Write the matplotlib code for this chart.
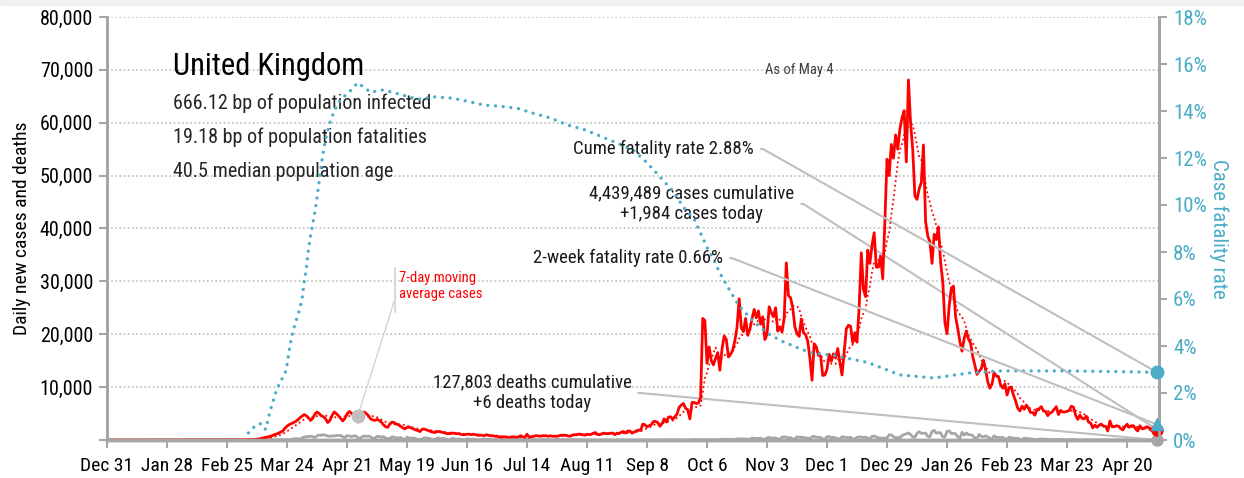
import matplotlib
matplotlib.use('Agg')
import matplotlib.pyplot as plt
import numpy as np
import pandas as pd

plt.rcParams['font.family'] = ['Roboto Condensed', 'Archivo Narrow', 'DejaVu Sans']

RED = '#ff0000'
TEAL = '#4bacc6'
GREY = '#a6a6a6'
LEADER = '#bfbfbf'

# daily new cases (thousands), one line per week starting Tue Dec 31 2019
cases_k = [
    0, 0, 0, 0, 0, 0, 0,
    0, 0, 0, 0, 0, 0, 0,
    0, 0, 0, 0, 0, 0, 0,
    0, 0, 0, 0, 0, 0, 0,
    0, 0, 0, 0, 0, 0, 0,
    0, 0, 0, 0, 0, 0, 0,
    0, 0, 0, 0, 0, 0, 0,
    0, 0, 0, 0, 0, 0, 0,
    0, 0, 0, 0, 0.01, 0.01, 0.01,
    0.05, 0.05, 0.03, 0.05, 0.05, 0.06, 0.07,
    0.15, 0.2, 0.3, 0.4, 0.5, 0.55, 0.7,
    0.8, 1.0, 1.1, 1.3, 1.5, 1.7, 2.2,
    2.6, 2.9, 3.1, 3.3, 3.5, 3.8, 4.2,
    4.5, 4.8, 4.6, 4.2, 3.7, 4.1, 4.9,
    5.3, 5.0, 4.6, 4.4, 4.0, 3.3, 3.7,
    4.6, 5.3, 5.0, 4.6, 4.1, 3.6, 4.1,
    4.9, 5.4, 5.1, 4.7, 4.1, 3.4, 4.0,
    4.8, 5.3, 5.0, 4.6, 4.0, 3.8, 3.7,
    3.9, 3.7, 3.4, 2.9, 2.5, 2.4, 3.0,
    3.4, 3.3, 3.0, 2.9, 2.6, 2.3, 2.1,
    2.4, 2.4, 2.3, 2.1, 1.9, 1.8, 1.6,
    2.0, 2.1, 1.9, 1.8, 1.6, 1.5, 1.4,
    1.6, 1.6, 1.5, 1.4, 1.3, 1.2, 1.2,
    1.3, 1.3, 1.2, 1.2, 1.1, 1.0, 1.0,
    1.1, 1.1, 1.0, 1.1, 1.0, 0.9, 0.9,
    0.9, 0.8, 1.0, 0.9, 0.8, 0.8, 0.7,
    0.7, 0.6, 0.5, 0.6, 0.6, 0.5, 0.5,
    0.6, 0.6, 0.5, 0.6, 0.8, 0.6, 0.5,
    1.1, 0.5, 0.6, 0.7, 0.8, 0.8, 0.7,
    0.8, 0.8, 0.8, 0.7, 0.8, 0.7, 0.7,
    0.7, 0.8, 0.9, 0.9, 0.9, 0.8, 0.7,
    0.9, 1.0, 1.0, 1.1, 1.1, 1.0, 0.9,
    1.1, 1.0, 1.1, 1.3, 1.4, 1.0, 1.0,
    1.2, 1.3, 1.2, 1.2, 1.3, 1.3, 1.0,
    1.3, 1.2, 1.5, 1.6, 1.3, 1.7, 1.7,
    1.3, 1.5, 1.7, 1.9, 1.8, 3.0, 2.9,
    2.5, 2.7, 2.9, 3.5, 3.5, 3.3, 2.6,
    3.1, 4.0, 3.4, 4.3, 4.4, 3.9, 4.4,
    4.9, 6.2, 6.6, 6.9, 6.0, 5.7, 4.0,
    7.1, 7.1, 6.9, 7.0, 8.0, 23.0, 22.6,
    14.5, 17.6, 15.0, 14.2, 15.5, 16.5, 13.2,
    17.2, 19.7, 19.0, 15.7, 16.2, 17.0, 18.8,
    21.3, 26.7, 21.2, 20.5, 23.0, 19.8, 20.9,
    22.9, 24.7, 23.1, 24.4, 21.9, 23.3, 19.0,
    20.0, 25.2, 24.1, 23.3, 25.0, 20.6, 21.4,
    20.4, 23.0, 33.5, 27.3, 26.9, 25.0, 21.4,
    20.1, 19.6, 22.9, 20.3, 19.9, 18.7, 15.5,
    11.3, 18.2, 17.6, 16.0, 15.9, 12.2, 12.3,
    13.4, 16.2, 14.9, 16.3, 15.5, 17.3, 14.7,
    12.3, 16.6, 21.0, 21.7, 21.5, 18.4, 20.3,
    18.5, 25.2, 35.4, 28.5, 27.1, 35.9, 33.4,
    36.8, 39.2, 32.7, 32.7, 34.7, 30.5, 41.4,
    53.1, 50.0, 55.9, 53.3, 57.7, 55.0, 58.8,
    60.9, 62.3, 52.6, 68.1, 59.9, 54.9, 46.2,
    45.5, 47.5, 48.7, 55.8, 41.3, 38.6, 37.5,
    33.4, 38.9, 37.9, 40.3, 33.6, 30.0, 22.2,
    20.1, 25.3, 28.7, 29.1, 23.3, 21.1, 18.6,
    16.8, 19.2, 20.6, 19.1, 18.3, 15.8, 14.1,
    12.4, 13.0, 13.5, 15.1, 13.3, 11.0, 9.8,
    10.6, 12.7, 12.1, 12.0, 10.4, 9.8, 10.6,
    8.5, 9.9, 10.0, 8.5, 7.4, 6.0, 5.5,
    6.4, 5.8, 6.6, 6.0, 5.2, 5.2, 4.7,
    5.8, 5.9, 6.3, 5.5, 5.4, 4.6, 5.1,
    5.3, 5.8, 6.3, 4.8, 5.6, 5.3, 5.3,
    5.4, 5.6, 6.4, 6.2, 4.7, 3.9, 4.7,
    4.1, 4.0, 4.5, 3.4, 3.2, 2.3, 2.8,
    2.4, 2.8, 3.0, 2.6, 2.6, 1.7, 3.6,
    2.5, 2.5, 2.7, 2.6, 2.2, 1.9, 2.5,
    3.0, 2.4, 2.7, 2.7, 2.1, 1.7, 2.7,
    2.1, 2.2, 2.5, 2.4, 1.9, 1.7, 1.6,
    1.984,
]

# daily deaths, same weeks
deaths = [
    0, 0, 0, 0, 0, 0, 0,
    0, 0, 0, 0, 0, 0, 0,
    0, 0, 0, 0, 0, 0, 0,
    0, 0, 0, 0, 0, 0, 0,
    0, 0, 0, 0, 0, 0, 0,
    0, 0, 0, 0, 0, 0, 0,
    0, 0, 0, 0, 0, 0, 0,
    0, 0, 0, 0, 0, 0, 0,
    0, 0, 0, 0, 0, 0, 0,
    0, 0, 1, 1, 0, 1, 1,
    2, 2, 2, 1, 11, 14, 20,
    16, 33, 40, 33, 56, 48, 54,
    87, 41, 115, 181, 260, 209, 180,
    381, 563, 569, 684, 708, 621, 439,
    786, 938, 881, 980, 917, 737, 717,
    778, 761, 861, 847, 888, 596, 449,
    828, 763, 616, 768, 813, 413, 360,
    586, 765, 674, 739, 621, 315, 288,
    693, 649, 539, 626, 346, 268, 210,
    627, 494, 428, 384, 468, 170, 160,
    545, 363, 338, 351, 282, 118, 121,
    134, 412, 377, 324, 215, 113, 111,
    324, 359, 176, 357, 204, 77, 55,
    286, 245, 151, 202, 181, 36, 38,
    233, 184, 135, 173, 128, 43, 15,
    171, 154, 149, 186, 100, 36, 25,
    155, 176, 89, 137, 67, 22, 16,
    155, 85, 85, 48, 148, 21, 11,
    138, 85, 66, 114, 40, 40, 11,
    110, 79, 79, 76, 20, 0, 7,
    119, 83, 38, 120, 8, 74, 1,
    89, 65, 49, 55, 3, 5, 8,
    20, 18, 16, 11, 11, 0, 3,
    12, 16, 6, 2, 2, 2, 2,
    16, 7, 12, 9, 6, 1, 2,
    3, 10, 12, 10, 6, 2, 3,
    32, 8, 14, 6, 9, 5, 9,
    27, 20, 21, 27, 27, 18, 11,
    37, 37, 40, 34, 34, 17, 13,
    71, 71, 66, 76, 67, 33, 19,
    76, 70, 77, 87, 81, 65, 50,
    143, 137, 138, 136, 150, 67, 80,
    241, 191, 189, 224, 174, 151, 102,
    367, 310, 280, 274, 326, 162, 136,
    397, 492, 378, 355, 413, 156, 194,
    532, 595, 563, 376, 462, 168, 213,
    598, 529, 501, 511, 341, 398, 206,
    608, 696, 498, 521, 479, 215, 205,
    603, 648, 414, 504, 397, 231, 189,
    616, 533, 516, 424, 519, 144, 232,
    506, 612, 532, 489, 534, 326, 215,
    691, 744, 570, 400, 350, 316, 357,
    414, 981, 964, 613, 445, 454, 407,
    830, 1041, 1162, 1325, 1035, 563, 529,
    1243, 1564, 1248, 1280, 1295, 671, 599,
    1610, 1820, 1290, 1401, 1348, 610, 592,
    1631, 1725, 1239, 1245, 1200, 587, 406,
    1449, 915, 1322, 1014, 1014, 828, 373,
    333, 1052, 678, 621, 758, 621, 258,
    230, 799, 454, 533, 445, 534, 215,
    178, 548, 442, 323, 345, 290, 144,
    104, 343, 315, 242, 236, 158, 82,
    65, 190, 175, 181, 175, 121, 52,
    64, 110, 141, 95, 101, 96, 33,
    17, 112, 98, 70, 63, 58, 19,
    23, 56, 43, 52, 10, 10, 9,
    20, 45, 23, 53, 40, 34, 7,
    23, 13, 33, 32, 30, 10, 4,
    33, 22, 18, 29, 32, 19, 17,
    29, 21, 11, 15, 14, 1, 2,
    6,
]

# cumulative case fatality rate (%)
cfr_dates = [
    '2020-03-06', '2020-03-08', '2020-03-10', '2020-03-12', '2020-03-14',
    '2020-03-15', '2020-03-16', '2020-03-18', '2020-03-19', '2020-03-21',
    '2020-03-23', '2020-03-24', '2020-03-25', '2020-03-26', '2020-03-27',
    '2020-03-28', '2020-03-29', '2020-03-30', '2020-03-31', '2020-04-01',
    '2020-04-02', '2020-04-03', '2020-04-04', '2020-04-05', '2020-04-06',
    '2020-04-07', '2020-04-08', '2020-04-09', '2020-04-10', '2020-04-11',
    '2020-04-13', '2020-04-15', '2020-04-18', '2020-04-22', '2020-04-26',
    '2020-04-29', '2020-05-02', '2020-05-08', '2020-05-16', '2020-05-24',
    '2020-06-01', '2020-06-09', '2020-06-17', '2020-06-24', '2020-07-02',
    '2020-07-10', '2020-07-17', '2020-07-25', '2020-08-02', '2020-08-10',
    '2020-08-18', '2020-08-26', '2020-09-02', '2020-09-08', '2020-09-14',
    '2020-09-20', '2020-09-25', '2020-09-30', '2020-10-04', '2020-10-06',
    '2020-10-09', '2020-10-12', '2020-10-17', '2020-10-21', '2020-10-27',
    '2020-11-03', '2020-11-10', '2020-11-18', '2020-11-24', '2020-12-04',
    '2020-12-20', '2021-01-04', '2021-01-20', '2021-02-05', '2021-02-20',
    '2021-03-23', '2021-04-22', '2021-05-04',
]
cfr_pct = [
    0.3, 0.5, 0.65, 0.7, 0.45,
    0.8, 1.2, 1.8, 2.1, 2.5,
    2.8, 3.2, 3.8, 4.3, 4.7,
    5.0, 5.3, 5.6, 6.0, 6.7,
    7.3, 8.1, 8.7, 9.2, 9.7,
    10.3, 11.0, 11.7, 12.3, 12.8,
    13.5, 14.0, 14.5, 14.8, 15.2,
    15.0, 14.8, 14.9, 14.7, 14.5,
    14.6, 14.55, 14.4, 14.25, 14.2,
    14.1, 13.9, 13.7, 13.4, 13.2,
    12.9, 12.6, 12.3, 11.8, 11.2,
    10.6, 9.9, 9.4, 8.6, 8.2,
    7.7, 7.1, 6.3, 5.7, 5.1,
    4.55, 4.2, 3.9, 3.7, 3.6,
    3.3, 2.77, 2.64, 2.85, 2.94,
    2.94, 2.9, 2.88,
]

country = 'United Kingdom'
infected_bp = 666.12
fatalities_bp = 19.18
median_age = 40.5
cum_cases = 4439489
cum_deaths = 127803
two_week_cfr = 0.66

dates = pd.date_range('2019-12-31', periods=len(cases_k), freq='D')
cases = pd.Series(np.array(cases_k) * 1000, index=dates)
deaths_s = pd.Series(deaths, index=dates)
ma7 = cases.rolling(7).mean()
cfr = pd.Series(cfr_pct, index=pd.to_datetime(cfr_dates))
last = dates[-1]

fig = plt.figure(figsize=(12.44, 4.78), dpi=100)
fig.add_artist(plt.Rectangle((0, 1 - 5 / 478), 1, 5 / 478, transform=fig.transFigure,
                             color='#f0f0f0', zorder=0))
ax = fig.add_axes([107 / 1244, 38 / 478, 1052 / 1244, 423 / 478])
ax2 = ax.twinx()

ax.plot(dates, deaths_s, color=GREY, lw=2, zorder=3)
ax.plot(dates, cases, color=RED, lw=2, zorder=4)
ax.plot(dates, ma7, color=RED, lw=1.3, ls=(0, (1, 1.6)), zorder=4)
ax2.plot(cfr.index, cfr.values, color=TEAL, lw=2.4, ls=(0, (0.01, 2.3)),
         dash_capstyle='round', zorder=3)

# end-of-series markers
ax.plot(last, deaths_s.iloc[-1], 'o', color=GREY, ms=8, clip_on=False, zorder=6)
ax.plot(last, cases.iloc[-1], 'o', color=RED, ms=8, clip_on=False, zorder=6)
ax2.plot(last, cfr.iloc[-1], 'o', color=TEAL, ms=9, clip_on=False, zorder=6)
ax2.plot(last, two_week_cfr, '^', color=TEAL, ms=9, clip_on=False, zorder=6)

# axes
ax.set_xlim(dates[0], last + pd.Timedelta(hours=22))
ax.set_ylim(0, 80000)
ax2.set_ylim(0, 18)

tick_dates = pd.date_range('2019-12-31', last, freq='28D')
ax.set_xticks(tick_dates)
ax.set_xticklabels([f'{d:%b} {d.day}' for d in tick_dates])
yt = np.arange(0, 80001, 10000)
ax.set_yticks(yt)
ax.set_yticklabels(['' if v == 0 else f'{v:,}' for v in yt])
rt = np.arange(0, 19, 2)
ax2.set_yticks(rt)
ax2.set_yticklabels([f'{v}%' for v in rt])

ax.tick_params(axis='x', length=6, width=1.5, color=GREY, labelsize=14, pad=6)
ax.tick_params(axis='y', length=6, width=1.5, color=GREY, labelsize=14.5, pad=4)
ax2.tick_params(axis='y', length=6, width=1.5, color=GREY, labelsize=15,
                labelcolor=TEAL, pad=4)

ax.yaxis.grid(True, color=LEADER, ls=(0, (1, 1.5)), lw=1.2)
ax.set_axisbelow(True)
for a in (ax, ax2):
    a.spines['top'].set_visible(False)
    a.spines['left'].set_color(GREY)
    a.spines['right'].set_color(GREY)
    a.spines['bottom'].set_color(GREY)
    a.spines['left'].set_linewidth(2)
    a.spines['right'].set_linewidth(2)
    a.spines['bottom'].set_linewidth(2.5)

ax.set_ylabel('Daily new cases and deaths', fontsize=14, labelpad=6)
ax2.set_ylabel('Case fatality rate', fontsize=15, color=TEAL, rotation=270, labelpad=16)

# headline block
ax.text(0.0627, 0.863, country, transform=ax.transAxes, fontsize=22, va='baseline')
stats = [f'{infected_bp:.2f} bp of population infected',
         f'{fatalities_bp:.2f} bp of population fatalities',
         f'{median_age} median population age']
for i, s in enumerate(stats):
    ax.text(0.0627, 0.797 - i * 0.081, s, transform=ax.transAxes, fontsize=14.5,
            va='center', color='#262626')
ax.text(0.658, 0.875, f'As of {last:%b} {last.day}', transform=ax.transAxes,
        fontsize=10.5, ha='center', va='center', color='#404040')


def leader(axis, text, xy, xytext, ha='right', size=13.5, color='#1a1a1a'):
    axis.annotate(text, xy=xy, xycoords='data', xytext=xytext,
                  textcoords='axes fraction', ha=ha, va='center',
                  multialignment='center', fontsize=size, color=color,
                  arrowprops=dict(arrowstyle='-', color=LEADER, lw=1.5,
                                  relpos=(1, 0.5), shrinkA=3, shrinkB=0,
                                  connectionstyle='arc,angleA=0,armA=9,angleB=0,armB=0,rad=0'))


leader(ax2, f'Cume fatality rate {cfr.iloc[-1]:.2f}%', (last, cfr.iloc[-1]), (0.615, 0.688))
leader(ax, f'{cum_cases:,} cases cumulative\n+{cases.iloc[-1]:,.0f} cases today',
       (last, cases.iloc[-1]), (0.556, 0.558), ha='center')
leader(ax2, f'2-week fatality rate {two_week_cfr:.2f}%', (last, two_week_cfr), (0.5856, 0.430))
leader(ax, f'{cum_deaths:,} deaths cumulative\n+{deaths_s.iloc[-1]} deaths today',
       (last, deaths_s.iloc[-1]), (0.404, 0.111), ha='center')

# moving-average callout
note_date = pd.Timestamp('2020-04-26')
ax.plot(note_date, ma7[note_date], 'o', color=LEADER, ms=9, zorder=6)
ax.annotate('7-day moving\naverage cases', xy=(note_date, ma7[note_date]),
            xytext=(0.2776, 0.364), textcoords='axes fraction', ha='left', va='center',
            fontsize=10.5, color=RED,
            arrowprops=dict(arrowstyle='-', color='#d0d0d0', lw=0.9, relpos=(0, 0.5),
                            shrinkA=3, shrinkB=0))
ax.annotate('', xy=(0.2738, 0.3026), xytext=(0.2738, 0.4066), xycoords='axes fraction',
            arrowprops=dict(arrowstyle='-', color='#d9d9d9', lw=1.5, shrinkA=0, shrinkB=0))

fig.savefig('out.png', dpi=100)
